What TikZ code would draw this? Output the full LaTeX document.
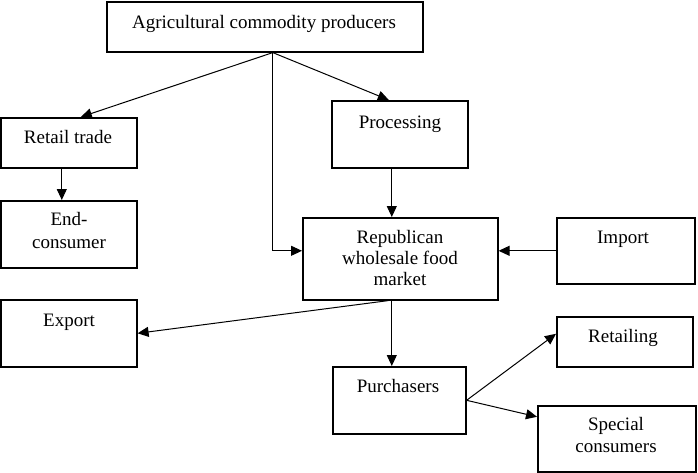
\documentclass[tikz,border=0pt]{standalone}
\usepackage{fontspec}
\setmainfont{Liberation Serif}
\usetikzlibrary{arrows.meta,calc}
\begin{document}
\begin{tikzpicture}[x=1pt,y=-1pt,
  box/.style={draw,line width=1.6pt,inner sep=0pt,anchor=north west},
  lbl/.style={anchor=base,inner sep=0pt,font=\fontsize{19}{21}\selectfont},
  conn/.style={line width=1pt,-{Triangle[length=11pt,width=10pt]}},
  plain/.style={line width=1pt}]
\useasboundingbox (0,0) rectangle (698,472);
% boxes
\node[box,minimum width=316,minimum height=50] (agri) at (106,1) {};
\node[box,minimum width=136,minimum height=50] (retail) at (0,117) {};
\node[box,minimum width=136,minimum height=67] (proc) at (331,100) {};
\node[box,minimum width=136,minimum height=67] (endc) at (0,200) {};
\node[box,minimum width=195,minimum height=82] (rep) at (302,217) {};
\node[box,minimum width=138,minimum height=66] (imp) at (556,217) {};
\node[box,minimum width=136,minimum height=67] (exp) at (0,299) {};
\node[box,minimum width=133,minimum height=67] (purch) at (332,366) {};
\node[box,minimum width=136,minimum height=50] (rtl) at (556,316) {};
\node[box,minimum width=158,minimum height=66] (spec) at (537,405) {};
% texts
\node[lbl] (tagri) at (264,28) {Agricultural commodity producers};
\node[lbl] (tretail) at (68,143) {Retail trade};
\node[lbl] (tproc) at (400,128) {Processing};
\node[lbl] (tend1) at (69,225) {End-};
\node[lbl] (tend2) at (69,248) {consumer};
\node[lbl] (trep1) at (400,243) {Republican};
\node[lbl] (trep2) at (400,264) {wholesale food};
\node[lbl] (trep3) at (400,285) {market};
\node[lbl] (timp) at (623,243) {Import};
\node[lbl] (texp) at (69,326) {Export};
\node[lbl] (tpurch) at (398,392) {Purchasers};
\node[lbl] (trtl) at (623,342) {Retailing};
\node[lbl] (tspec1) at (616,430) {Special};
\node[lbl] (tspec2) at (616,452) {consumers};
% connectors
\draw[conn] ([xshift=8pt]agri.south) -- ([xshift=12pt]retail.north);
\draw[conn] ([xshift=8pt]agri.south) -- ([xshift=-11pt]proc.north);
\draw[conn] ([xshift=8pt]agri.south) |- ([yshift=8pt]rep.west);
\draw[conn] ([xshift=-7pt]retail.south) -- ([xshift=-7pt]endc.north);
\draw[conn] ([xshift=-8pt]proc.south) -- ([xshift=-8pt]proc.south |- rep.north);
\draw[conn] (imp.west) -- (imp.west -| rep.east);
\draw[conn] ([xshift=-12pt]rep.south) -- (exp.east);
\draw[conn] ([xshift=-8pt]proc.south |- rep.south) -- ([xshift=-8pt]proc.south |- purch.north);
\draw[conn] (purch.east) -- ([yshift=8pt]rtl.west);
\draw[conn] (purch.east) -- ([yshift=22pt]spec.west);
\end{tikzpicture}
\end{document}
